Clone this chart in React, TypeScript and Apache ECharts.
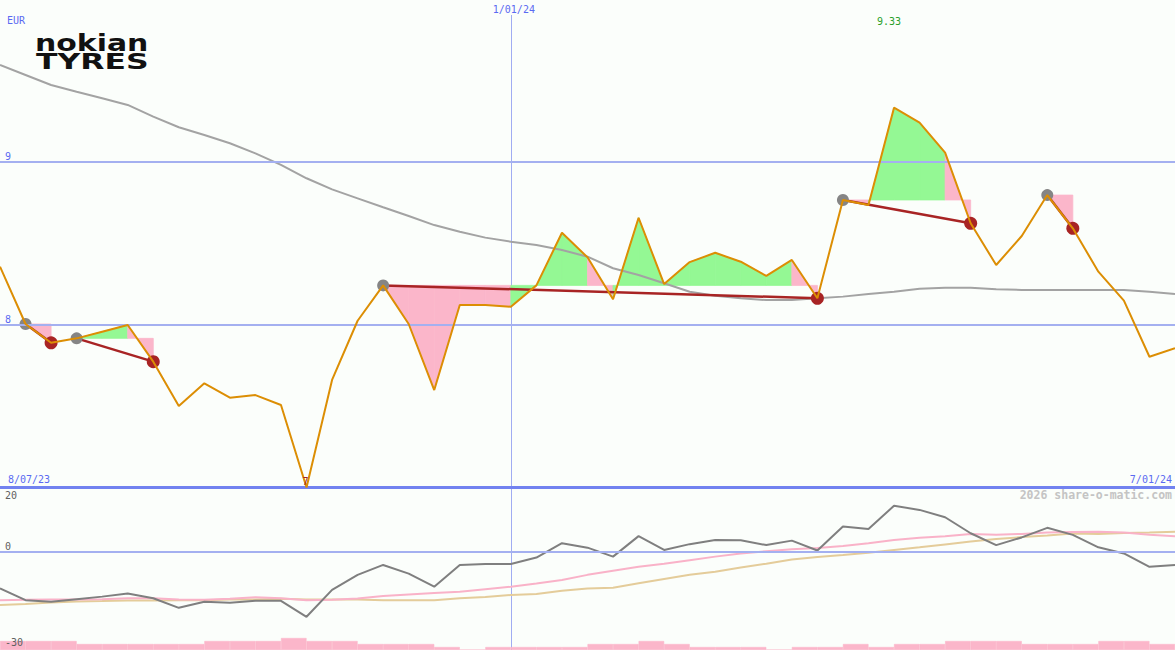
import React, { useEffect, useRef } from "react";
import * as echarts from "echarts";

// ---------- data ----------
const currency = "EUR";
const startDate = "8/07/23";
const endDate = "7/01/24";
const dateMarkers = [{ label: "1/01/24", index: 20 }];
const priceTicks = [8, 9];
const priceFloor = 7;
const indicatorTicks = [20, 0, -30];
const watermark = "2026 share-o-matic.com";

const price = [
  8.355, 8.003, 7.888, 7.915, 7.956, 7.997, 7.772, 7.5, 7.639, 7.551, 7.567, 7.506,
  7.0, 7.66, 8.023, 8.24, 8.003, 7.598, 8.12, 8.12, 8.109, 8.24, 8.563, 8.412,
  8.155, 8.655, 8.248, 8.383, 8.44, 8.385, 8.298, 8.396, 8.161, 8.764, 8.733, 9.33,
  9.238, 9.054, 8.621, 8.365, 8.543, 8.794, 8.59, 8.324, 8.146, 7.802, 7.854,
];

const priceAvg = [
  9.592, 9.531, 9.469, 9.428, 9.388, 9.347, 9.275, 9.21, 9.163, 9.112, 9.05, 8.979,
  8.897, 8.829, 8.774, 8.719, 8.666, 8.61, 8.569, 8.533, 8.508, 8.488, 8.457, 8.416,
  8.345, 8.304, 8.253, 8.201, 8.177, 8.161, 8.15, 8.15, 8.161, 8.171, 8.187, 8.201,
  8.22, 8.226, 8.226, 8.216, 8.212, 8.212, 8.212, 8.212, 8.212, 8.201, 8.187,
];

// [entry index, exit index]
const trades = [
  [1, 2],
  [3, 6],
  [15, 32],
  [33, 38],
  [41, 42],
];

const momentum = [
  -11.5, -15.2, -15.7, -14.9, -14.1, -13.1, -14.6, -17.6, -15.7, -16.0, -15.4, -15.4,
  -20.4, -12.0, -7.3, -4.2, -6.9, -11.0, -4.2, -3.9, -3.9, -1.9, 2.6, 1.2,
  -1.6, 4.8, 0.5, 2.3, 3.6, 3.5, 2.0, 3.4, 0.3, 7.8, 7.0, 14.3,
  13.0, 10.7, 5.7, 2.0, 4.4, 7.4, 5.2, 1.3, -0.6, -4.8, -4.2,
];

const momentumAvg = [
  -15.2, -15.1, -15.0, -15.0, -14.9, -14.6, -14.6, -15.0, -15.1, -14.8, -14.3, -14.6,
  -15.2, -15.1, -14.7, -13.9, -13.4, -13.0, -12.6, -11.8, -11.0, -10.0, -8.9, -7.3,
  -6.0, -4.8, -3.8, -2.7, -1.6, -0.6, 0.1, 0.7, 1.1, 1.7, 2.6, 3.6,
  4.3, 4.8, 5.5, 5.2, 5.5, 5.9, 6.1, 6.2, 5.9, 5.2, 4.8,
];

const momentumAvgLong = [
  -16.7, -16.4, -15.9, -15.6, -15.5, -15.3, -15.3, -15.2, -15.2, -15.0, -15.0, -14.8,
  -15.0, -15.0, -15.0, -15.2, -15.2, -15.2, -14.6, -14.2, -13.6, -13.3, -12.3, -11.6,
  -11.3, -9.9, -8.6, -7.3, -6.3, -5.0, -3.8, -2.5, -1.7, -1.1, -0.4, 0.5,
  1.3, 2.2, 3.1, 3.9, 4.5, 5.0, 5.6, 5.5, 5.8, 5.9, 6.2,
];

const volume = [
  3, 3, 3, 2, 2, 2, 2, 2, 3, 3, 3, 4, 3, 3, 2, 2, 2, 1, 0, 1, 1, 1, 1,
  2, 2, 3, 2, 1, 1, 1, 0, 1, 1, 2, 1, 2, 2, 3, 3, 3, 2, 2, 2, 3, 3, 2,
];

// ---------- styles ----------
const W = 1175;
const H = 650;
const MAIN_H = 487.5;
const PX_PER_EUR = 163;
const IND_PX_PER_UNIT = 3.2;
const MONO = '"DejaVu Sans Mono", monospace';

const C = {
  bg: "#fbfefb",
  grid: "#a4b0f0",
  vline: "#a0acf2",
  base: "#7282f0",
  label: "#5a6af2",
  orange: "#dc8e04",
  avg: "#a3a3a3",
  green: "#94f894",
  pink: "#fbb6ca",
  trade: "#a82424",
  entry: "#858585",
  ind: "#7f7f7f",
  indPink: "#f9b2c8",
  indTan: "#e4cc9a",
  water: "#c4c4c4",
  indLabel: "#606060",
  max: "#2aa02a",
  min: "#a02424",
};

const fmt = (v: number) => String(Number(v.toFixed(2)));

export default function App() {
  const ref = useRef<HTMLDivElement>(null);

  useEffect(() => {
    const chart = echarts.init(ref.current!, null, { renderer: "svg" });
    const n = price.length;
    const last = n - 1;

    const fills: number[][] = [];
    trades.forEach(([e, x]) => {
      const lvl = price[e];
      for (let j = e; j < x; j++) fills.push([j, lvl, price[j + 1] >= lvl ? 1 : 0]);
    });

    const indTop = MAIN_H;
    const indH = H - MAIN_H;
    const indMax = indicatorTicks[0];
    const indMin = indMax - indH / IND_PX_PER_UNIT;

    const option: any = {
      animation: false,
      backgroundColor: C.bg,
      grid: [
        { left: 0, top: 0, width: W, height: MAIN_H },
        { left: 0, top: indTop, width: W, height: indH },
        { left: 0, top: H - 30, width: W, height: 30 },
      ],
      xAxis: [
        { type: "value", gridIndex: 0, min: 0, max: last, show: false },
        { type: "value", gridIndex: 1, min: 0, max: last, show: false },
        {
          type: "category",
          gridIndex: 2,
          data: volume.map((_, i) => i),
          boundaryGap: true,
          show: false,
        },
      ],
      yAxis: [
        {
          type: "value",
          gridIndex: 0,
          min: priceFloor,
          max: priceFloor + MAIN_H / PX_PER_EUR,
          show: false,
        },
        { type: "value", gridIndex: 1, min: indMin, max: indMax, show: false },
        { type: "value", gridIndex: 2, min: 0, max: 10, show: false },
      ],
      series: [
        {
          type: "bar",
          xAxisIndex: 2,
          yAxisIndex: 2,
          data: volume,
          barWidth: "100%",
          barCategoryGap: "0%",
          itemStyle: { color: C.pink, borderColor: C.pink, borderWidth: 0.6 },
          silent: true,
          z: 1,
        },
        {
          type: "custom",
          xAxisIndex: 0,
          yAxisIndex: 0,
          data: fills,
          encode: { x: 0, y: 1 },
          silent: true,
          z: 1,
          renderItem: (_p: any, api: any) => {
            const i = api.value(0);
            const lvl = api.value(1);
            const up = api.value(2);
            const a = api.coord([i, lvl]);
            const b = api.coord([i, price[i]]);
            const c = api.coord([i + 1, price[i + 1]]);
            const d = api.coord([i + 1, lvl]);
            const col = up ? C.green : C.pink;
            return {
              type: "polygon",
              shape: { points: [a, b, c, d] },
              style: { fill: col, stroke: col, lineWidth: 0.8 },
            };
          },
        },
        {
          type: "line",
          xAxisIndex: 0,
          yAxisIndex: 0,
          data: priceAvg.map((v, i) => [i, v]),
          symbol: "none",
          lineStyle: { color: C.avg, width: 2 },
          silent: true,
          z: 2,
          markLine: {
            silent: true,
            symbol: "none",
            label: { show: false },
            data: [
              ...priceTicks.map((t) => ({
                yAxis: t,
                lineStyle: { color: C.grid, width: 2, type: "solid" },
              })),
              { yAxis: priceFloor, lineStyle: { color: C.base, width: 3, type: "solid" } },
            ],
          },
        },
        {
          type: "lines",
          coordinateSystem: "cartesian2d",
          xAxisIndex: 0,
          yAxisIndex: 0,
          data: trades.map(([e, x]) => ({ coords: [[e, price[e]], [x, price[x]]] })),
          lineStyle: { color: C.trade, width: 2.5, opacity: 1 },
          silent: true,
          z: 3,
        },
        {
          type: "scatter",
          xAxisIndex: 0,
          yAxisIndex: 0,
          data: trades.map(([e]) => [e, price[e]]),
          symbol: "circle",
          symbolSize: 12,
          itemStyle: { color: C.entry, opacity: 1 },
          silent: true,
          z: 4,
        },
        {
          type: "scatter",
          xAxisIndex: 0,
          yAxisIndex: 0,
          data: trades.map(([, x]) => [x, price[x]]),
          symbol: "circle",
          symbolSize: 13,
          itemStyle: { color: C.trade, opacity: 1 },
          silent: true,
          z: 4,
        },
        {
          type: "line",
          xAxisIndex: 0,
          yAxisIndex: 0,
          data: price.map((v, i) => [i, v]),
          symbol: "none",
          lineStyle: { color: C.orange, width: 2 },
          silent: true,
          z: 5,
        },
        {
          type: "line",
          xAxisIndex: 1,
          yAxisIndex: 1,
          data: momentumAvgLong.map((v, i) => [i, v]),
          symbol: "none",
          lineStyle: { color: C.indTan, width: 2 },
          silent: true,
          z: 2,
          markLine: {
            silent: true,
            symbol: "none",
            label: { show: false },
            data: [{ yAxis: 0, lineStyle: { color: C.grid, width: 2, type: "solid" } }],
          },
        },
        {
          type: "line",
          xAxisIndex: 1,
          yAxisIndex: 1,
          data: momentumAvg.map((v, i) => [i, v]),
          symbol: "none",
          lineStyle: { color: C.indPink, width: 2 },
          silent: true,
          z: 3,
        },
        {
          type: "line",
          xAxisIndex: 1,
          yAxisIndex: 1,
          data: momentum.map((v, i) => [i, v]),
          symbol: "none",
          lineStyle: { color: C.ind, width: 2 },
          silent: true,
          z: 4,
        },
      ],
    };

    chart.setOption(option);

    const toPx = (g: number, pt: number[]) =>
      chart.convertToPixel({ gridIndex: g } as any, pt) as unknown as number[];

    const text = (
      t: string,
      x: number,
      y: number,
      color: string,
      align = "left",
      font = `10px ${MONO}`
    ) => ({
      type: "text",
      x,
      y,
      z: 10,
      silent: true,
      style: {
        text: t,
        fill: color,
        font,
        align,
        verticalAlign: "middle",
        textAlign: align,
        textVerticalAlign: "middle",
      },
    });

    const elements: any[] = [];

    // logo
    elements.push({
      type: "text",
      x: 35,
      y: 43,
      scaleX: 1.3,
      z: 10,
      silent: true,
      style: {
        text: "nokian",
        fill: "#111111",
        font: 'bold 23px "DejaVu Sans", sans-serif',
        verticalAlign: "middle",
        textVerticalAlign: "middle",
      },
    });
    elements.push({
      type: "text",
      x: 36,
      y: 61,
      scaleX: 1.43,
      z: 10,
      silent: true,
      style: {
        text: "TYRES",
        fill: "#111111",
        font: 'bold 22px "DejaVu Sans", sans-serif',
        verticalAlign: "middle",
        textVerticalAlign: "middle",
      },
    });

    elements.push(text(currency, 7, 20, C.label));

    priceTicks.forEach((t) => {
      const [, y] = toPx(0, [0, t]);
      elements.push(text(String(t), 5, y - 5.5, C.label));
    });

    elements.push(text(startDate, 8, MAIN_H - 8.5, C.label));
    elements.push(text(endDate, W - 3, MAIN_H - 8.5, C.label, "right"));

    dateMarkers.forEach((m) => {
      const [x] = toPx(0, [m.index, priceFloor]);
      const xs = Math.round(x) + 0.5;
      elements.push({
        type: "line",
        z: 0,
        silent: true,
        shape: { x1: xs, y1: 15, x2: xs, y2: H },
        style: { stroke: C.vline, lineWidth: 1 },
      });
      elements.push(text(m.label, x + 3, 9, C.label, "center"));
    });

    // max and min labels
    let maxIdx = 0;
    let minIdx = 0;
    price.forEach((v, i) => {
      if (v > price[maxIdx]) maxIdx = i;
      if (v < price[minIdx]) minIdx = i;
    });
    const [mx] = toPx(0, [maxIdx, price[maxIdx]]);
    elements.push(text(fmt(price[maxIdx]), mx - 5, 21, C.max, "center"));
    const [nx, ny] = toPx(0, [minIdx, price[minIdx]]);
    elements.push(text(fmt(price[minIdx]), nx - 1, ny - 6.5, C.min, "center"));

    indicatorTicks.forEach((t) => {
      const [, y] = toPx(1, [0, t]);
      elements.push(text(String(t), 5, Math.max(y - 5.5, indTop + 7.5), C.indLabel));
    });

    elements.push(text(watermark, W - 3, 495, C.water, "right", `bold 11.5px ${MONO}`));

    chart.setOption({ graphic: { elements } });

    return () => chart.dispose();
  }, []);

  return (
    <div
      ref={ref}
      style={{ position: "fixed", left: 0, top: 0, width: W, height: H }}
    />
  );
}
